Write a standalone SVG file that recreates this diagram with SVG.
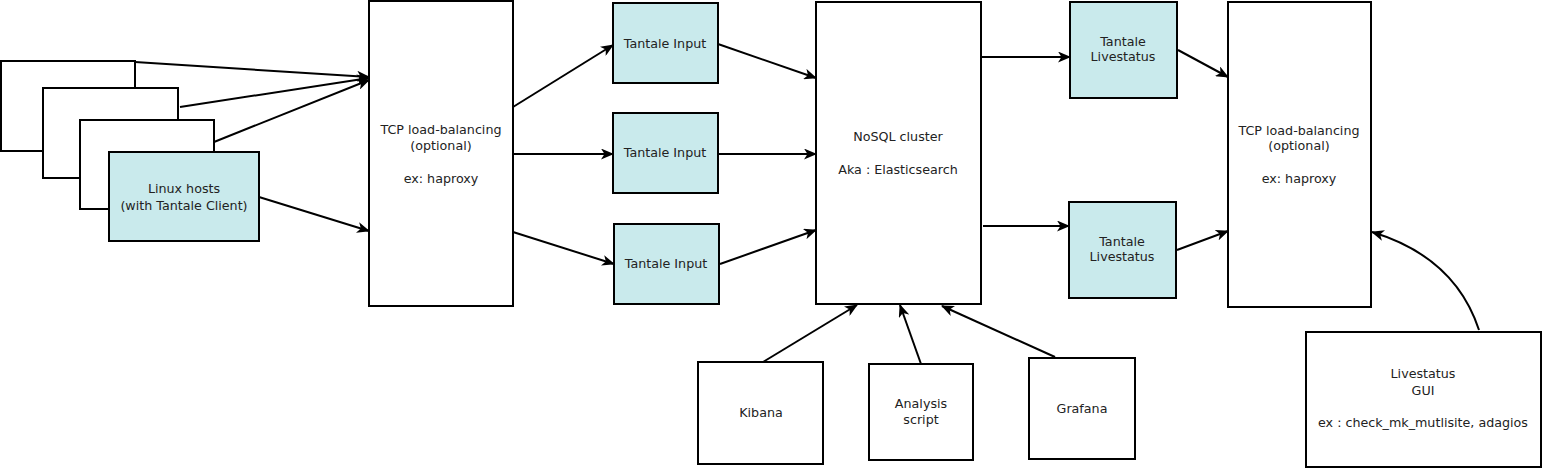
<svg xmlns="http://www.w3.org/2000/svg" width="1542" height="469" viewBox="0 0 1542 469">
<style>
.b{fill:#ffffff;stroke:#000;stroke-width:2}
.t{fill:#c9eaec;stroke:#000;stroke-width:2}
text{font-family:"DejaVu Sans",sans-serif;font-size:12.7px;fill:#222;text-anchor:middle}
.c{fill:none;stroke:#000;stroke-width:2;marker-end:url(#ah)}
</style>
<defs>
<marker id="ah" viewBox="0 0 13 11" refX="12" refY="5.5" markerWidth="13" markerHeight="11" markerUnits="userSpaceOnUse" orient="auto">
<path d="M0,0 L13,5.5 L0,11 L3.5,5.5 z" fill="#000"/>
</marker>
</defs>
<g id="host1"><rect class="b" x="1" y="61" width="134" height="90"/></g>
<g id="host2"><rect class="b" x="43" y="88" width="135" height="90"/></g>
<g id="host3"><rect class="b" x="80" y="120" width="134" height="89"/></g>
<g id="host4"><rect class="t" x="109" y="152" width="150" height="89"/>
<text x="184" y="193">Linux hosts</text><text x="184" y="210">(with Tantale Client)</text></g>
<g id="tcp1"><rect class="b" x="369" y="1" width="144" height="305"/>
<text x="441" y="134">TCP load-balancing</text><text x="441" y="150">(optional)</text><text x="441" y="183">ex: haproxy</text></g>
<g id="input1"><rect class="t" x="613" y="3" width="105" height="80"/><text x="665" y="48">Tantale Input</text></g>
<g id="input2"><rect class="t" x="613" y="113" width="105" height="80"/><text x="665" y="157">Tantale Input</text></g>
<g id="input3"><rect class="t" x="614" y="224" width="105" height="80"/><text x="666" y="268">Tantale Input</text></g>
<g id="nosql"><rect class="b" x="816" y="2" width="165" height="302"/>
<text x="898" y="141">NoSQL cluster</text><text x="898" y="174">Aka : Elasticsearch</text></g>
<g id="live1"><rect class="t" x="1070" y="2" width="107" height="96"/><text x="1123" y="46">Tantale</text><text x="1123" y="61">Livestatus</text></g>
<g id="live2"><rect class="t" x="1069" y="202" width="107" height="96"/><text x="1122" y="246">Tantale</text><text x="1122" y="261">Livestatus</text></g>
<g id="tcp2"><rect class="b" x="1228" y="2" width="143" height="305"/>
<text x="1299" y="135">TCP load-balancing</text><text x="1299" y="150">(optional)</text><text x="1299" y="183">ex: haproxy</text></g>
<g id="kibana"><rect class="b" x="698" y="362" width="125" height="102"/><text x="761" y="417">Kibana</text></g>
<g id="analysis"><rect class="b" x="869" y="364" width="104" height="96"/><text x="921" y="408">Analysis</text><text x="921" y="424">script</text></g>
<g id="grafana"><rect class="b" x="1029" y="358" width="106" height="101"/><text x="1082" y="413">Grafana</text></g>
<g id="gui"><rect class="b" x="1306" y="332" width="235" height="135"/>
<text x="1423" y="378">Livestatus</text><text x="1423" y="395">GUI</text><text x="1423" y="427">ex : check_mk_mutlisite, adagios</text></g>
<g id="connectors">
<path class="c" d="M135,62 L369,77"/>
<path class="c" d="M180,107 L369,78"/>
<path class="c" d="M214,142 L369,80"/>
<path class="c" d="M259,197 L369,231"/>
<path class="c" d="M513,107 L613,45"/>
<path class="c" d="M513,154 L613,154"/>
<path class="c" d="M513,232 L614,264"/>
<path class="c" d="M718,44 L816,78"/>
<path class="c" d="M718,154 L816,154"/>
<path class="c" d="M720,264 L816,230"/>
<path class="c" d="M981,57 L1070,57"/>
<path class="c" d="M983,226 L1069,226"/>
<path class="c" d="M1178,50 L1228,77"/>
<path class="c" d="M1177,250 L1228,231"/>
<path class="c" d="M763,362 L857,305"/>
<path class="c" d="M921,364 L900,305"/>
<path class="c" d="M1055,357 L942,306"/>
<path class="c" d="M1479,330 Q1455,257 1372,232"/>
</g>
</svg>
